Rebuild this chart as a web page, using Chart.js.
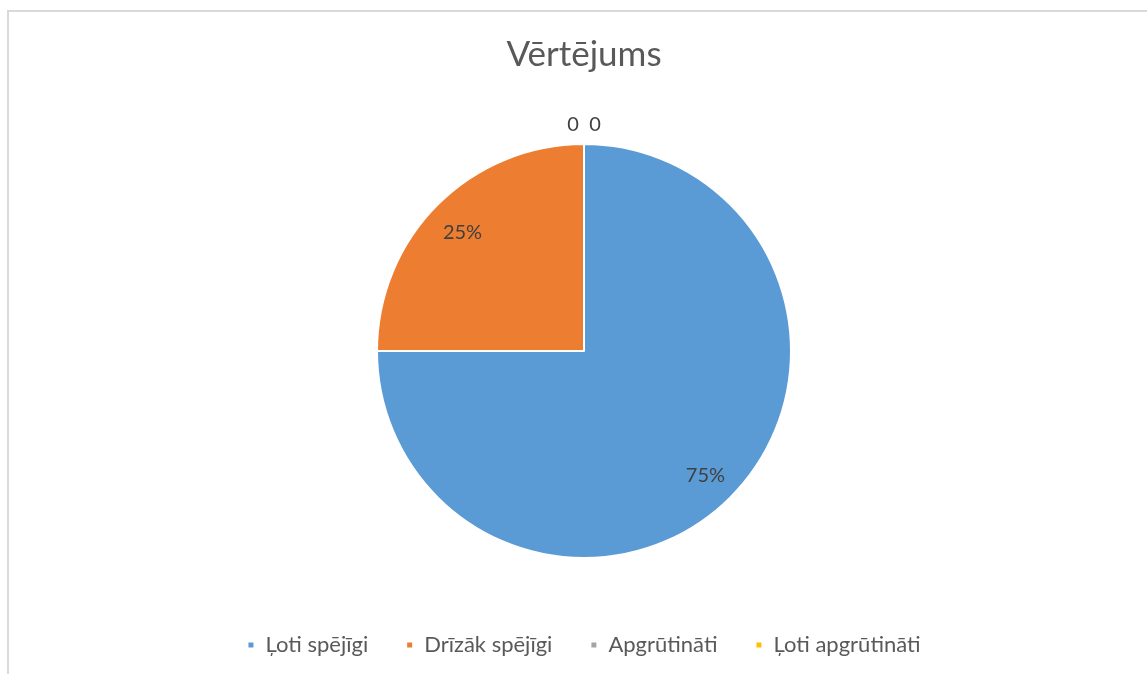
<!DOCTYPE html>
<html>
<head>
<meta charset="utf-8">
<script src="https://cdn.jsdelivr.net/npm/chart.js@4.4.0/dist/chart.umd.min.js"></script>
<style>
    html, body { margin: 0; padding: 0; background: #fff; overflow: hidden; }
    #frame {
        position: absolute;
        left: 7px;
        top: 10px;
        width: 1148px;
        height: 680px;
        border: 2px solid #d9d9d9;
    }
    #wrap { position: relative; width: 1150px; height: 662px; }
</style>
</head>
<body>
<div id="frame">
    <div id="wrap"><canvas id="pieChart"></canvas></div>
</div>
<script>
// Chart data
const chartTitle = 'Vērtējums';
const categories = ['Ļoti spējīgi', 'Drīzāk spējīgi', 'Apgrūtināti', 'Ļoti apgrūtināti'];
const shares = [75, 25, 0, 0];
const sliceColors = ['#5B9BD5', '#ED7D31', '#A5A5A5', '#FFC000'];

const fontName = 'Lato, "Open Sans", sans-serif';

// Draw value labels like the spreadsheet does (percent inside, zeros above the top)
const sliceLabels = {
    id: 'sliceLabels',
    afterDatasetsDraw(chart) {
        const ctx = chart.ctx;
        const meta = chart.getDatasetMeta(0);
        ctx.save();
        ctx.font = '20px ' + fontName;
        ctx.fillStyle = '#404040';
        ctx.textAlign = 'center';
        ctx.textBaseline = 'middle';
        let zeroCount = 0;
        const zeroTotal = shares.filter(v => v === 0).length;
        meta.data.forEach((arc, i) => {
            const value = shares[i];
            const p = arc.getProps(['x', 'y', 'startAngle', 'endAngle', 'outerRadius'], true);
            if (value > 0) {
                const mid = (p.startAngle + p.endAngle) / 2;
                const r = p.outerRadius * 0.83;
                ctx.fillText(value + '%', p.x + Math.cos(mid) * r, p.y + Math.sin(mid) * r + 3);
            } else {
                // zero slices sit at the top, spread them side by side
                const offset = (zeroCount - (zeroTotal - 1) / 2) * 22;
                ctx.fillText('0', p.x + offset, p.y - p.outerRadius - 19);
                zeroCount++;
            }
        });
        ctx.restore();
    }
};

const ctx = document.getElementById('pieChart').getContext('2d');
const pieChart = new Chart(ctx, {
    type: 'pie',
    data: {
        labels: categories,
        datasets: [{
            data: shares,
            backgroundColor: sliceColors,
            borderColor: '#ffffff',
            borderWidth: 2,
            radius: 207
        }]
    },
    options: {
        responsive: true,
        maintainAspectRatio: false,
        animation: false,
        layout: {
            padding: { top: 0, bottom: 8, left: 0, right: 0 }
        },
        plugins: {
            title: {
                display: true,
                text: chartTitle,
                color: '#595959',
                font: { family: fontName, size: 35, weight: 'normal' },
                padding: { top: 22, bottom: 30 }
            },
            legend: {
                position: 'bottom',
                labels: {
                    color: '#595959',
                    font: { family: fontName, size: 22 },
                    boxWidth: 7,
                    boxHeight: 7,
                    padding: 38
                }
            },
            tooltip: { enabled: false }
        }
    },
    plugins: [sliceLabels]
});
</script>
</body>
</html>
